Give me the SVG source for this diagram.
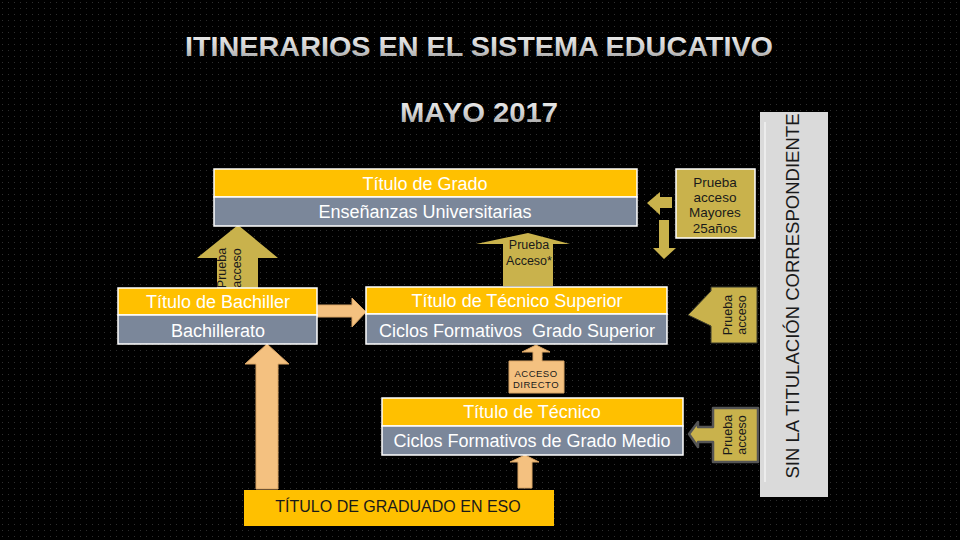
<svg xmlns="http://www.w3.org/2000/svg" width="960" height="540" viewBox="0 0 960 540">
<defs>
  <pattern id="dots" width="6" height="6" patternUnits="userSpaceOnUse">
    <rect width="6" height="6" fill="#000"/>
    <rect x="2" y="2" width="1" height="1" fill="#2e2e2e"/>
  </pattern>
  <linearGradient id="silver" x1="0" y1="0" x2="0" y2="1">
    <stop offset="0" stop-color="#f4f4f4"/>
    <stop offset="0.55" stop-color="#d0d0d0"/>
    <stop offset="1" stop-color="#9a9a9a"/>
  </linearGradient>
  <style>
    .title{font-family:"Liberation Sans",Arial,sans-serif;font-weight:bold;font-size:28px;fill:url(#silver);text-anchor:middle}
    .yel{fill:#ffc000;stroke:#ffffff;stroke-width:1.5}
    .gry{fill:#7b879a;stroke:#ffffff;stroke-width:1.5}
    .wt{font-family:"Liberation Sans",Arial,sans-serif;font-size:18px;fill:#ffffff;text-anchor:middle}
    .dk{font-family:"Liberation Sans",Arial,sans-serif;fill:#1a1a1a;text-anchor:middle}
    .olive{fill:#c9b24c}
    .peach{fill:#f4c180;stroke:#d9a464;stroke-width:1}
  </style>
</defs>
<rect width="960" height="540" fill="url(#dots)"/>

<text class="title" x="479" y="56" textLength="588" lengthAdjust="spacingAndGlyphs">ITINERARIOS EN EL SISTEMA EDUCATIVO</text>
<text class="title" x="479" y="122" textLength="158" lengthAdjust="spacingAndGlyphs">MAYO 2017</text>

<g id="panel-sin-titulacion">
  <rect x="760" y="112" width="68" height="385" fill="#dadada"/>
  <line x1="765" y1="122" x2="765" y2="482" stroke="#ececec" stroke-width="2"/>
  <text class="dk" transform="translate(799,296) rotate(-90)" font-size="18" textLength="365" lengthAdjust="spacingAndGlyphs">SIN LA TITULACIÓN CORRESPONDIENTE</text>
</g>

<g id="connectors">
  <!-- Prueba acceso arrow Bachiller -> Grado -->
  <g id="arrow-prueba-bach">
    <polygon class="olive" points="238,225 278,258 258,258 258,288 217,288 217,258 197,258"/>
    <text class="dk" font-size="12.5" transform="translate(226,268) rotate(-90)">Prueba</text>
    <text class="dk" font-size="12.5" transform="translate(241,268) rotate(-90)">acceso</text>
  </g>
  <!-- Prueba Acceso* arrow -->
  <g id="arrow-prueba-acceso-star">
    <polygon class="olive" points="528,233 570,244 553,244 553,286 503,286 503,244 476,244"/>
    <text class="dk" font-size="12.5" x="529" y="249">Prueba</text>
    <text class="dk" font-size="12.5" x="529" y="265">Acceso*</text>
  </g>
  <!-- Mayores arrows -->
  <polygon class="olive" points="647,203 660,192 660,197 672,197 672,208 660,208 660,215"/>
  <polygon class="olive" points="659,220 669,220 669,248 676,248 664,259 653,248 659,248"/>
  <!-- Bachiller -> Tecnico superior -->
  <polygon class="peach" points="317,305 352,305 352,298 366,312 352,327 352,317 317,317"/>
  <!-- ESO -> Bachillerato -->
  <polygon class="peach" points="267,344 289,364 278,364 278,489 256,489 256,364 245,364"/>
  <!-- ESO -> Medio -->
  <polygon class="peach" points="525,455 539,462 532,462 532,488 518,488 518,462 510,462"/>
  <!-- Acceso directo -->
  <g id="arrow-acceso-directo">
    <polygon class="peach" points="536,345 550,352 542,352 542,361 564,361 564,393 509,393 509,361 533,361 533,352 522,352"/>
    <text class="dk" font-size="9.5" x="536" y="377" letter-spacing="0.5">ACCESO</text>
    <text class="dk" font-size="9.5" x="536" y="388" letter-spacing="0.5">DIRECTO</text>
  </g>
</g>

<g id="node-grado">
  <rect class="yel" x="214" y="169" width="423" height="28"/>
  <rect class="gry" x="214" y="197" width="423" height="29"/>
  <text class="wt" x="425" y="190">Título de Grado</text>
  <text class="wt" x="425" y="218">Enseñanzas Universitarias</text>
</g>

<g id="node-bachiller">
  <rect class="yel" x="118" y="288" width="199" height="27"/>
  <rect class="gry" x="118" y="315" width="199" height="29"/>
  <text class="wt" x="218" y="308">Título de Bachiller</text>
  <text class="wt" x="218" y="337">Bachillerato</text>
</g>

<g id="node-tecnico-superior">
  <rect class="yel" x="366" y="287" width="301" height="27"/>
  <rect class="gry" x="366" y="314" width="301" height="30"/>
  <text class="wt" x="517" y="307">Título de Técnico Superior</text>
  <text class="wt" x="517" y="337">Ciclos Formativos&#160; Grado Superior</text>
</g>

<g id="node-tecnico-medio">
  <rect class="yel" x="382" y="398" width="301" height="28"/>
  <rect class="gry" x="382" y="426" width="301" height="29"/>
  <text class="wt" x="532" y="418">Título de Técnico</text>
  <text class="wt" x="532" y="447">Ciclos Formativos de Grado Medio</text>
</g>

<g id="node-eso">
  <rect x="244" y="490" width="310" height="36" fill="#ffc000"/>
  <text class="dk" font-size="16" x="398" y="512" fill="#333">TÍTULO DE GRADUADO EN ESO</text>
</g>

<g id="node-mayores25">
  <rect x="676" y="169" width="79" height="69" fill="#c9b24c" stroke="#ffffff" stroke-width="1.5"/>
  <text class="dk" font-size="13.5" x="715" y="187">Prueba</text>
  <text class="dk" font-size="13.5" x="715" y="202">acceso</text>
  <text class="dk" font-size="13.5" x="715" y="217">Mayores</text>
  <text class="dk" font-size="13.5" x="715" y="233">25años</text>
</g>

<g id="node-prueba-superior">
  <polygon points="711,287 757,287 757,343 711,343 711,326 688,315 711,291" fill="#c9b24c" stroke="#3a3a2a" stroke-width="1"/>
  <text class="dk" font-size="12.5" transform="translate(732,315) rotate(-90)">Prueba</text>
  <text class="dk" font-size="12.5" transform="translate(746,315) rotate(-90)">acceso</text>
</g>

<g id="node-prueba-medio">
  <polygon points="713,408 758,408 758,462 713,462 713,442 698,442 698,447 689,434 698,422 698,427 713,427" fill="#c9b24c" stroke="#555555" stroke-width="2.5" stroke-linejoin="round"/>
  <text class="dk" font-size="12.5" transform="translate(732,435) rotate(-90)">Prueba</text>
  <text class="dk" font-size="12.5" transform="translate(746,435) rotate(-90)">acceso</text>
</g>
</svg>
